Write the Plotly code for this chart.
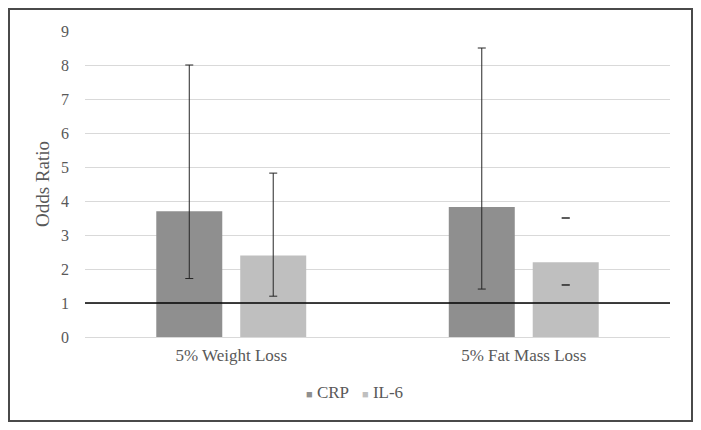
import plotly.graph_objects as go

categories = ["5% Weight Loss", "5% Fat Mass Loss"]
crp_values = [3.7, 3.82]
crp_low = [1.72, 1.41]
crp_high = [8.0, 8.5]
il6_values = [2.4, 2.2]
il6_low = [1.2, 1.53]
il6_high = [4.82, 3.5]
il6_stem = [True, False]  # second IL-6 interval is drawn as caps only
series_names = ["CRP", "IL-6"]

CRP_COLOR = "#8f8f8f"
IL6_COLOR = "#bfbfbf"
ERR_COLOR = "#262626"
TEXT_COLOR = "#595959"
FONT = "Liberation Serif"

W, H = 685, 414
ML, MR, MT, MB = 77, 23, 23, 85
PW, PH = W - ML - MR, H - MT - MB

fig = go.Figure()

fig.add_trace(go.Bar(
    name=series_names[0], x=categories, y=crp_values, offsetgroup="crp",
    marker=dict(color=CRP_COLOR, line=dict(width=0)),
    error_y=dict(type="data", symmetric=False,
                 array=[h - v for h, v in zip(crp_high, crp_values)],
                 arrayminus=[v - l for l, v in zip(crp_low, crp_values)],
                 color=ERR_COLOR, thickness=1, width=4),
    showlegend=False,
))

fig.add_trace(go.Bar(
    name=series_names[1], x=categories, y=il6_values, offsetgroup="il6",
    marker=dict(color=IL6_COLOR, line=dict(width=0)),
    showlegend=False,
))

# IL-6 intervals: zero-height helper bars carrying the error bars
err_x, err_base, err_up, err_down = [], [], [], []
for c, v, l, h, s in zip(categories, il6_values, il6_low, il6_high, il6_stem):
    if s:
        err_x.append(c); err_base.append(v); err_up.append(h - v); err_down.append(v - l)
    else:  # caps only, no stem
        err_x += [c, c]; err_base += [l, h]; err_up += [0, 0]; err_down += [0, 0]
fig.add_trace(go.Bar(
    x=err_x, y=[0] * len(err_x), base=err_base, offsetgroup="il6",
    marker=dict(color="rgba(0,0,0,0)", line=dict(width=0)),
    error_y=dict(type="data", symmetric=False, array=err_up, arrayminus=err_down,
                 color=ERR_COLOR, thickness=1, width=4),
    showlegend=False, hoverinfo="skip",
))

# reference line at odds ratio 1
fig.add_shape(type="line", xref="paper", yref="y", x0=0, x1=1, y0=1, y1=1,
              line=dict(color="black", width=1.5))

# outer chart border at the figure edge
fig.add_shape(type="rect", xref="paper", yref="paper",
              x0=(1 - ML) / PW, x1=(W - 1 - ML) / PW,
              y0=(PH + MT - (H - 1)) / PH, y1=(PH + MT - 1) / PH,
              line=dict(color="#4a4a4a", width=2))

# legend (small squares next to labels)
legend_x = [(304 - 8 - ML) / PW, (360 - 8 - ML) / PW]
legend_y = (PH + MT - (392 - 8)) / PH
for name, col, lx in zip(series_names, [CRP_COLOR, IL6_COLOR], legend_x):
    fig.add_annotation(
        xref="paper", yref="paper", x=lx, y=legend_y, xanchor="left", yanchor="middle",
        showarrow=False,
        text=f"<span style='color:{col};font-size:11px'>■</span> {name}",
        font=dict(family=FONT, size=17, color=TEXT_COLOR),
    )

fig.update_layout(
    width=W, height=H,
    margin=dict(l=ML, r=MR, t=MT, b=MB),
    paper_bgcolor="white", plot_bgcolor="white",
    barmode="group", bargap=0.426, bargroupgap=0.214,
    font=dict(family=FONT, size=16, color=TEXT_COLOR),
    showlegend=False,
    xaxis=dict(showgrid=False, showline=False, ticks="", ticklabelstandoff=6,
               tickfont=dict(family=FONT, size=17, color=TEXT_COLOR)),
    yaxis=dict(range=[0, 9], dtick=1, showgrid=True, gridcolor="#d9d9d9", gridwidth=1,
               zeroline=True, zerolinecolor="#d9d9d9", zerolinewidth=1,
               showline=False, ticks="", ticklabelstandoff=15,
               tickfont=dict(family=FONT, size=16, color=TEXT_COLOR),
               title=dict(text="Odds Ratio", standoff=6,
                          font=dict(family=FONT, size=19, color=TEXT_COLOR))),
)

fig.write_html("out.html")
